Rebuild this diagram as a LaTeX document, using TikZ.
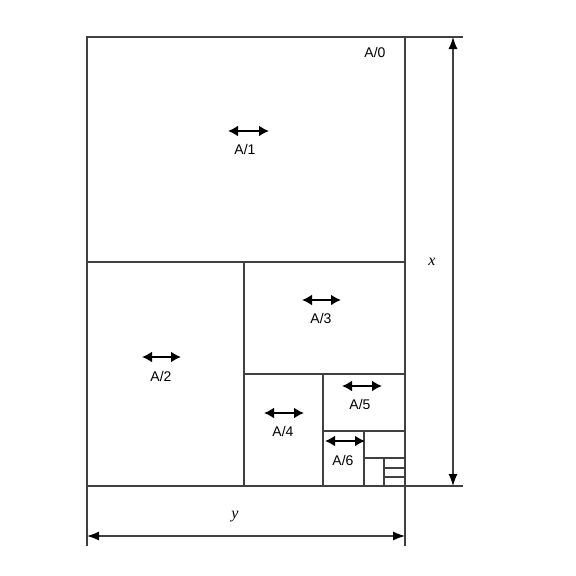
\documentclass[tikz,border=0pt]{standalone}
\usepackage{fontspec}
\setmainfont{Liberation Serif}
\newfontfamily\lsans{Liberation Sans}
\usetikzlibrary{arrows.meta}
\begin{document}
\begin{tikzpicture}[x=1pt,y=-1pt,
  edge/.style={draw=black!75,line width=1.3pt},
  dim/.style={draw=black!75,line width=1.2pt,{Latex[length=12pt,width=9pt,black]}-{Latex[length=12pt,width=9pt,black]}},
  tag/.style={font=\lsans\fontsize{14}{15}\selectfont,inner sep=0pt},
  dl/.style={font=\itshape\fontsize{16}{17}\selectfont,inner sep=0pt},
  dbl/.style={draw=black,line width=2.6pt,{Latex[length=10pt,width=11pt]}-{Latex[length=10pt,width=11pt]}}]
\useasboundingbox (0,0) rectangle (576,576);
% sheet corners
\coordinate (tl) at (87,37);
\coordinate (tr) at (405,37);
\coordinate (bl) at (87,486);
\coordinate (br) at (405,486);
\draw[edge] (tl) rectangle (br);
% subdivisions
\draw[edge] (87,262) -- (405,262);
\draw[edge] (244,262) -- (244,486);
\draw[edge] (244,374) -- (405,374);
\draw[edge] (323,374) -- (323,486);
\draw[edge] (323,431) -- (405,431);
\draw[edge] (364,431) -- (364,486);
\draw[edge] (364,458) -- (405,458);
\draw[edge] (384,458) -- (384,486);
\draw[edge] (384,468) -- (405,468);
\draw[edge] (384,477) -- (405,477);
% extension lines
\coordinate (xt) at (463,37);
\coordinate (xb) at (463,486);
\coordinate (yl) at (87,546);
\coordinate (yr) at (405,546);
\draw[edge] (tr) -- (xt);
\draw[edge] (br) -- (xb);
\draw[edge] (bl) -- (yl);
\draw[edge] (br) -- (yr);
% dimension arrows
\coordinate (xa) at (453,37);
\coordinate (xz) at (453,486);
\coordinate (ya) at (87,536);
\coordinate (yz) at (405,536);
\draw[dim] (xa) -- (xz);
\draw[dim] (ya) -- (yz);
\node[dl] (xlab) at (432,262) {x};
\node[dl] (ylab) at (235,517) {y};
% labels
\node[tag] (a0) at (375,52) {A/0};
\node[tag] (a1) at (245,149) {A/1};
\node[tag] (a2) at (161,376) {A/2};
\node[tag] (a3) at (321,318) {A/3};
\node[tag] (a4) at (283,431) {A/4};
\node[tag] (a5) at (360,404) {A/5};
\node[tag] (a6) at (343,460) {A/6};
% double arrows
\coordinate (a1l) at (228,131); \coordinate (a1r) at (269,131);
\coordinate (a2l) at (142,357); \coordinate (a2r) at (181,357);
\coordinate (a3l) at (302,300); \coordinate (a3r) at (341,300);
\coordinate (a4l) at (264,413); \coordinate (a4r) at (304,413);
\coordinate (a5l) at (342,386); \coordinate (a5r) at (382,386);
\coordinate (a6l) at (325,441); \coordinate (a6r) at (365,441);
\draw[dbl] (a1l) -- (a1r);
\draw[dbl] (a2l) -- (a2r);
\draw[dbl] (a3l) -- (a3r);
\draw[dbl] (a4l) -- (a4r);
\draw[dbl] (a5l) -- (a5r);
\draw[dbl] (a6l) -- (a6r);
\end{tikzpicture}
\end{document}
